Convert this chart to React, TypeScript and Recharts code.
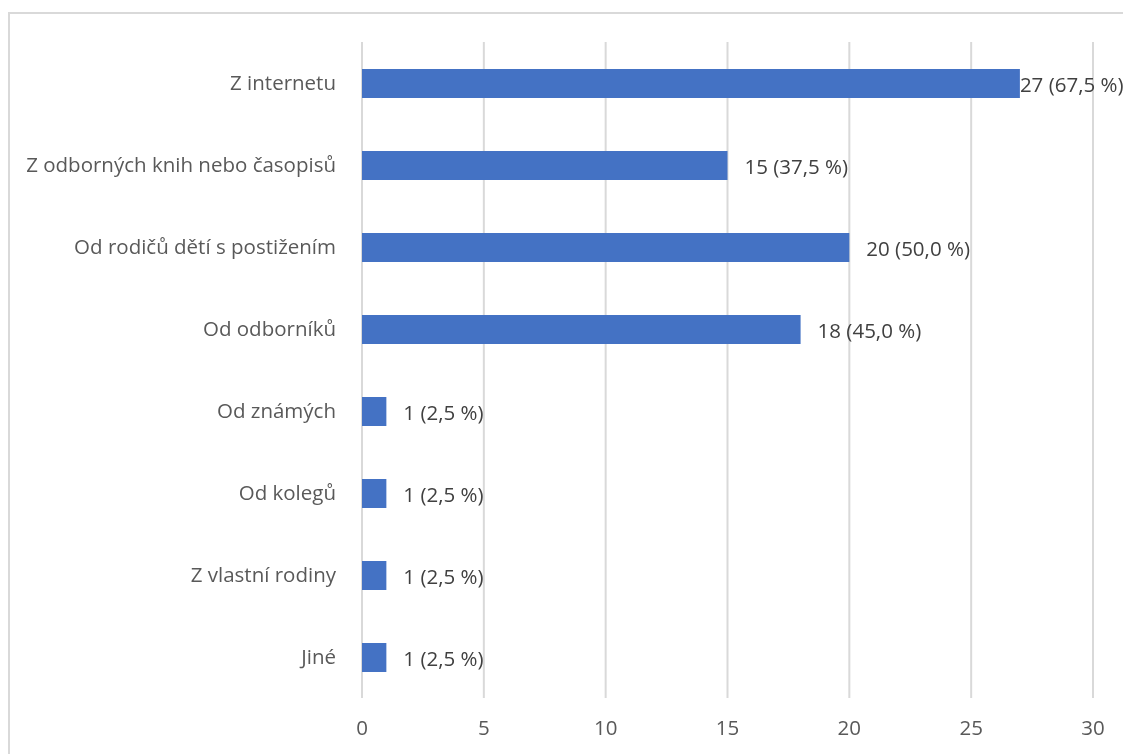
import React from 'react';
import {
  BarChart,
  Bar,
  XAxis,
  YAxis,
  CartesianGrid,
  LabelList,
} from 'recharts';

// kategorie (shora dolů)
const categories = [
  'Z internetu',
  'Z odborných knih nebo časopisů',
  'Od rodičů dětí s postižením',
  'Od odborníků',
  'Od známých',
  'Od kolegů',
  'Z vlastní rodiny',
  'Jiné',
];

const counts = [27, 15, 20, 18, 1, 1, 1, 1];
const percents = ['67,5', '37,5', '50,0', '45,0', '2,5', '2,5', '2,5', '2,5'];
const xTicks = [0, 5, 10, 15, 20, 25, 30];

const data = categories.map((name, i) => ({
  name,
  value: counts[i],
  label: `${counts[i]} (${percents[i]} %)`,
}));

const W = 1115;
const H = 746;
const FONT = '"Open Sans", "Noto Sans", sans-serif';
const FS = 20.5;

// popisek vpravo od sloupce, u okraje se posune zpět k sloupci
const renderLabel = (props: any) => {
  const { x, y, width, height, value } = props;
  const end = x + width;
  const textW = String(value).length * 11;
  const lx = Math.max(end, Math.min(end + 17, W - textW));
  return (
    <text
      x={lx}
      y={y + height / 2}
      fill="#404040"
      fontSize={FS}
      fontFamily={FONT}
      dominantBaseline="central"
    >
      {value}
    </text>
  );
};

export default function App() {
  return (
    <div
      style={{
        position: 'fixed',
        left: 8,
        top: 8,
        width: W,
        height: H,
        fontFamily: FONT,
        overflow: 'hidden',
      }}
    >
      <div
        style={{
          position: 'absolute',
          left: 0,
          top: 4,
          right: 0,
          bottom: 0,
          borderTop: '2px solid #d9d9d9',
          borderLeft: '2px solid #d9d9d9',
        }}
      />
      <BarChart
        width={W}
        height={H}
        data={data}
        layout="vertical"
        margin={{ top: 34, right: 30, bottom: 26, left: 0 }}
        barCategoryGap={0}
        style={{ position: 'absolute', left: 0, top: 0 }}
      >
        <CartesianGrid horizontal={false} stroke="#d9d9d9" strokeWidth={2} />
        <XAxis
          type="number"
          domain={[0, 30]}
          ticks={xTicks}
          height={30}
          axisLine={false}
          tickLine={false}
          tickSize={0}
          tickMargin={22}
          tick={{ fill: '#595959', fontSize: FS, fontFamily: FONT }}
        />
        <YAxis
          type="category"
          dataKey="name"
          width={354}
          axisLine={false}
          tickLine={false}
          tickSize={0}
          tickMargin={26}
          interval={0}
          tick={{ fill: '#595959', fontSize: FS, fontFamily: FONT }}
        />
        <Bar dataKey="value" fill="#4472c4" barSize={29} isAnimationActive={false}>
          <LabelList dataKey="label" content={renderLabel} />
        </Bar>
      </BarChart>
    </div>
  );
}
